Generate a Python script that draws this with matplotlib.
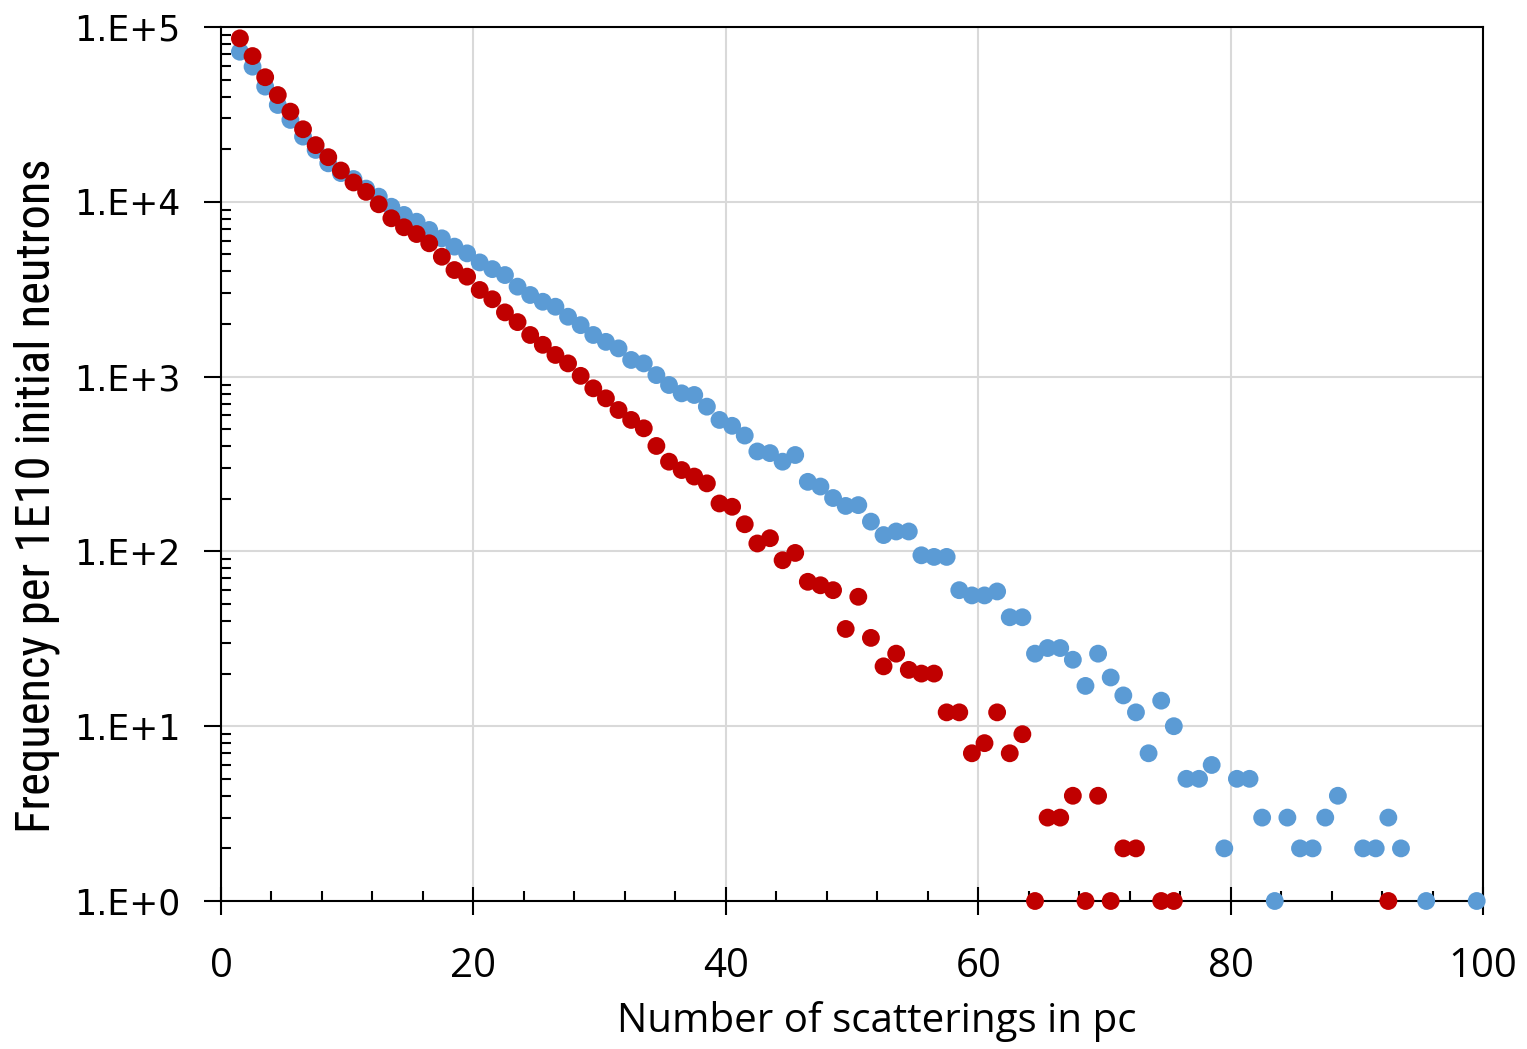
import numpy as np
import matplotlib
matplotlib.use("Agg")
import matplotlib.pyplot as plt
from matplotlib.ticker import FixedLocator, MultipleLocator, LogLocator, FuncFormatter, NullFormatter

# bin centres: number of scatterings (1..99), drawn at the middle of each bin
scatterings = np.arange(1, 100) + 0.5

# frequency per 1E10 initial neutrons (0 = no counts, not drawn on log axis)
freq_blue = [
    72200, 59300, 45600, 35800, 29400, 23600, 19800, 16600, 14600, 13500,
    11900, 10700, 9370, 8410, 7690, 6900, 6180, 5540, 5070, 4500,
    4120, 3810, 3270, 2930, 2680, 2510, 2200, 1970, 1730, 1580,
    1450, 1245, 1190, 1020, 895, 802, 785, 673, 565, 523,
    460, 373, 365, 326, 356, 250, 235, 202, 182, 184,
    148, 124, 130, 130, 95, 93, 93, 60, 56, 56,
    59, 42, 42, 26, 28, 28, 24, 17, 26, 19,
    15, 12, 7, 14, 10, 5, 5, 6, 2, 5,
    5, 3, 1, 3, 2, 2, 3, 4, 0, 2,
    2, 3, 2, 0, 1, 0, 0, 0, 1,
]
freq_red = [
    86100, 68200, 51600, 40800, 32800, 26000, 21100, 18000, 15100, 12900,
    11400, 9680, 8050, 7150, 6540, 5790, 4850, 4070, 3730, 3130,
    2770, 2330, 2050, 1730, 1520, 1330, 1190, 1010, 857, 751,
    644, 565, 506, 401, 326, 292, 268, 245, 188, 180,
    143, 111, 119, 89, 98, 67, 64, 60, 36, 55,
    32, 22, 26, 21, 20, 20, 12, 12, 7, 8,
    12, 7, 9, 1, 3, 3, 4, 1, 4, 1,
    2, 2, 0, 1, 1, 0, 0, 0, 0, 0,
    0, 0, 0, 0, 0, 0, 0, 0, 0, 0,
    0, 1, 0, 0, 0, 0, 0, 0, 0,
]

x_major = [0, 20, 40, 60, 80, 100]
y_major = [1, 10, 100, 1000, 10000, 100000]

BLUE = "#5B9BD5"
RED = "#C00000"
GRID = "#D9D9D9"

fig = plt.figure(figsize=(15.27, 10.49), dpi=100)
ax = fig.add_axes([221 / 1527, 1 - 901 / 1049, (1483 - 221) / 1527, (901 - 27) / 1049])

for vals, color in ((freq_blue, BLUE), (freq_red, RED)):
    v = np.asarray(vals, dtype=float)
    keep = v > 0
    ax.scatter(scatterings[keep], v[keep], s=165, color=color, edgecolors="none",
               clip_on=False, zorder=5)

ax.set_yscale("log")
ax.set_xlim(0, 100)
ax.set_ylim(1, 1e5)

ax.xaxis.set_major_locator(FixedLocator(x_major))
ax.xaxis.set_minor_locator(MultipleLocator(4))
ax.yaxis.set_major_locator(FixedLocator(y_major))
ax.yaxis.set_minor_locator(LogLocator(base=10, subs=np.arange(2, 10)))
ax.yaxis.set_minor_formatter(NullFormatter())
ax.yaxis.set_major_formatter(FuncFormatter(lambda v, _: f"1.E+{int(round(np.log10(v)))}"))

ax.grid(True, which="major", color=GRID, linewidth=1.5)
ax.set_axisbelow(True)

for sp in ax.spines.values():
    sp.set_linewidth(1.5)
    sp.set_color("black")

ax.tick_params(axis="x", which="major", direction="inout", length=20, width=1.5, pad=23)
ax.tick_params(axis="x", which="minor", direction="in", length=7, width=1.5)
ax.tick_params(axis="y", which="major", direction="out", length=12, width=1.5,
               labelsize=25, pad=17)
ax.tick_params(axis="y", which="minor", direction="in", length=7, width=1.5)
for lab in ax.get_xticklabels():
    lab.set_fontfamily(["Open Sans", "DejaVu Sans"])
    lab.set_fontsize(29)

fig.text(877 / 1527, 1 - 1022 / 1049, "Number of scatterings in pc",
         ha="center", va="center", fontsize=29, family=["Open Sans", "DejaVu Sans"])
fig.text(37 / 1527, 1 - 496 / 1049, "Frequency per 1E10 initial neutrons",
         ha="center", va="center", rotation=90, fontsize=35,
         family=["Roboto Condensed", "Liberation Sans Narrow", "Open Sans Condensed", "Roboto"])

fig.savefig("out.png", dpi=100)
plt.close(fig)
